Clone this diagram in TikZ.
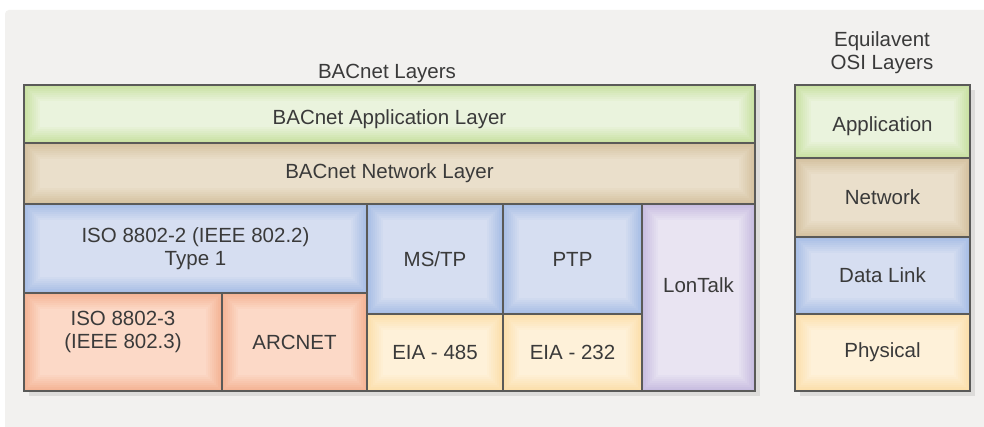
\documentclass[tikz,border=0pt]{standalone}
\usepackage{fontspec}
\setmainfont{Liberation Sans}
\usetikzlibrary{shadows}
\definecolor{bggray}{HTML}{F2F1EF}
\definecolor{linegray}{HTML}{5A5A58}
\definecolor{txtgray}{HTML}{3A3A3A}
\definecolor{greenout}{HTML}{C9E1A2}
\definecolor{greenin}{HTML}{EAF3DD}
\definecolor{tanout}{HTML}{D5C2A0}
\definecolor{tanin}{HTML}{EADFCB}
\definecolor{blueout}{HTML}{A8BEE5}
\definecolor{bluein}{HTML}{D6DEF1}
\definecolor{salmonout}{HTML}{F4B495}
\definecolor{salmonin}{HTML}{FCD9C7}
\definecolor{creamout}{HTML}{FCDFAB}
\definecolor{creamin}{HTML}{FEF1D9}
\definecolor{lilacout}{HTML}{C7BCE0}
\definecolor{lilacin}{HTML}{E9E4F2}
\begin{document}
\begin{tikzpicture}[x=1pt,y=-1pt,
    font=\fontsize{20.5}{23}\selectfont, text=txtgray,
    frame/.style={draw=linegray, line width=2pt, fill=white, inner sep=0pt,
      drop shadow={shadow xshift=5pt, shadow yshift=-5pt, opacity=0.18}},
    cell/.style 2 args={draw=linegray, line width=1.4pt, inner sep=0pt,
      align=center, fill=#1,
      path picture={\foreach \i [evaluate=\i as \pc using int(\i*12.5)] in {1,...,8}
        \fill[#2!\pc!#1] ([shift={(\i*2pt,\i*2pt)}]path picture bounding box.south west)
          rectangle ([shift={(-\i*2pt,-\i*2pt)}]path picture bounding box.north east);}}]
  \useasboundingbox (0,0) rectangle (984,427);
  \fill[white] (0,0) rectangle (984,427);
  \fill[bggray, rounded corners=4pt] (5,10) rectangle (990,433);
  % titles
  \node (bactitle) at (387,73) {BACnet Layers};
  \node[align=center] (osititle) at (882,53) {Equilavent\\OSI Layers};
  % outer frames
  \node[frame, minimum width=731pt, minimum height=306pt] (bacnet) at (389.5,238) {};
  \node[frame, minimum width=175pt, minimum height=306pt] (osi) at (882.5,238) {};
  % BACnet layers
  \node[cell={greenout}{greenin}, minimum width=731pt, minimum height=58pt, text height=26pt]
    (app) at (389.5,114) {BACnet Application Layer};
  \node[cell={tanout}{tanin}, minimum width=731pt, minimum height=61pt]
    (net) at (389.5,173.5) {BACnet Network Layer};
  \node[cell={blueout}{bluein}, minimum width=343pt, minimum height=89pt]
    (isotwo) at (195.5,248.5) {ISO 8802-2 (IEEE 802.2)\\Type 1};
  \node[cell={salmonout}{salmonin}, minimum width=198pt, minimum height=98pt, text depth=24pt]
    (isothree) at (123,342) {ISO 8802-3\\(IEEE 802.3)};
  \node[cell={salmonout}{salmonin}, minimum width=145pt, minimum height=98pt]
    (arcnet) at (294.5,342) {ARCNET};
  \node[cell={blueout}{bluein}, minimum width=136pt, minimum height=110pt]
    (mstp) at (435,259) {MS/TP};
  \node[cell={creamout}{creamin}, minimum width=136pt, minimum height=77pt]
    (eiafour) at (435,352.5) {EIA - 485};
  \node[cell={blueout}{bluein}, minimum width=139pt, minimum height=110pt]
    (ptp) at (572.5,259) {PTP};
  \node[cell={creamout}{creamin}, minimum width=139pt, minimum height=77pt]
    (eiatwo) at (572.5,352.5) {EIA - 232};
  \node[cell={lilacout}{lilacin}, minimum width=113pt, minimum height=187pt, text depth=25pt]
    (lontalk) at (698.5,297.5) {LonTalk};
  % OSI layers
  \node[cell={greenout}{greenin}, minimum width=175pt, minimum height=73pt, text height=24pt]
    (osiapp) at (882.5,121.5) {Application};
  \node[cell={tanout}{tanin}, minimum width=175pt, minimum height=79pt]
    (osinet) at (882.5,197.5) {Network};
  \node[cell={blueout}{bluein}, minimum width=175pt, minimum height=77pt]
    (osilink) at (882.5,275.5) {Data Link};
  \node[cell={creamout}{creamin}, minimum width=175pt, minimum height=77pt]
    (osiphys) at (882.5,352.5) {Physical};
\end{tikzpicture}
\end{document}
